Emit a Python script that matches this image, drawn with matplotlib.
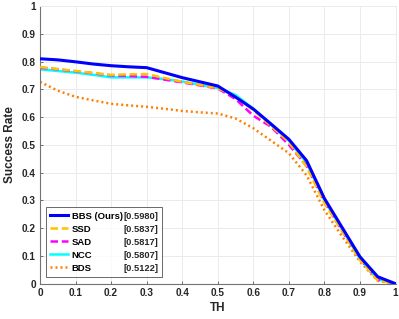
import numpy as np
import matplotlib
matplotlib.use('Agg')
import matplotlib.pyplot as plt

th = [0, 0.05, 0.1, 0.15, 0.2, 0.25, 0.3, 0.35, 0.4, 0.45, 0.5,
      0.55, 0.6, 0.65, 0.7, 0.75, 0.8, 0.85, 0.9, 0.95, 1.0]
bbs = [0.810, 0.806, 0.799, 0.791, 0.785, 0.781, 0.778, 0.760, 0.742, 0.727, 0.712,
       0.672, 0.629, 0.575, 0.520, 0.443, 0.307, 0.202, 0.097, 0.025, 0.0]
ssd = [0.780, 0.773, 0.766, 0.759, 0.752, 0.754, 0.755, 0.741, 0.727, 0.716, 0.704,
       0.675, 0.625, 0.568, 0.510, 0.420, 0.290, 0.190, 0.085, 0.012, 0.0]
sad = [0.778, 0.772, 0.765, 0.758, 0.750, 0.748, 0.745, 0.735, 0.725, 0.714, 0.703,
       0.665, 0.605, 0.565, 0.500, 0.425, 0.295, 0.190, 0.090, 0.015, 0.0]
ncc = [0.772, 0.766, 0.760, 0.752, 0.743, 0.743, 0.743, 0.737, 0.728, 0.716, 0.705,
       0.680, 0.630, 0.572, 0.515, 0.435, 0.300, 0.195, 0.090, 0.015, 0.0]
bds = [0.727, 0.695, 0.673, 0.660, 0.648, 0.642, 0.637, 0.630, 0.622, 0.617, 0.613,
       0.595, 0.560, 0.515, 0.470, 0.390, 0.265, 0.170, 0.080, 0.010, 0.0]
names = ['BBS (Ours)', 'SSD', 'SAD', 'NCC', 'BDS']
scores = ['[0.5980]', '[0.5837]', '[0.5817]', '[0.5807]', '[0.5122]']

plt.rcParams['font.family'] = ['Liberation Sans', 'DejaVu Sans']
plt.rcParams['font.weight'] = 'bold'
plt.rcParams['font.size'] = 7.2

fig = plt.figure(figsize=(3.99, 3.19), dpi=100)
ax = fig.add_axes([40/399, 1-283.7/319, 355.5/399, 277.7/319])

ax.plot(th, bbs, color=(0, 0, 1), lw=2.2, label=names[0], zorder=6)
ax.plot(th, ssd, color=(1, 0.76, 0), lw=1.8, ls=(0, (3, 1.5)), label=names[1], zorder=4)
ax.plot(th, sad, color=(1, 0, 1), lw=1.8, ls=(0, (3, 1.5)), label=names[2], zorder=3)
ax.plot(th, ncc, color=(0, 1, 1), lw=1.8, label=names[3], zorder=2)
ax.plot(th, bds, color=(1, 0.5, 0), lw=1.8, ls=(0, (0.8, 1.2)), label=names[4], zorder=1)

ax.set_xlim(0, 1)
ax.set_ylim(0, 1)
ticks = np.arange(0, 1.01, 0.1)
ax.set_xticks(ticks)
ax.set_yticks(ticks)
ax.set_xticklabels(['0'] + ['%.1f' % t for t in ticks[1:-1]] + ['1'])
ax.set_yticklabels(['0'] + ['%.1f' % t for t in ticks[1:-1]] + ['1'])
ax.tick_params(direction='in', length=2.5, width=0.6, color='0.35', pad=3,
               labelcolor='0.15', top=False, right=False)
ax.grid(True, color='0.92', lw=0.7)
ax.set_axisbelow(True)
for s in ['left', 'bottom']:
    ax.spines[s].set_color('0.45')
    ax.spines[s].set_linewidth(0.8)
for s in ['top', 'right']:
    ax.spines[s].set_color('0.92')
    ax.spines[s].set_linewidth(0.7)

ax.set_xlabel('TH', fontsize=8.5, fontweight='bold', labelpad=3, color='0.15')
ax.set_ylabel('Success Rate', fontsize=8.5, fontweight='bold', labelpad=4, color='0.15')

leg = ax.legend(loc='lower left', bbox_to_anchor=(0.017, 0.025, 0.327, 0.232),
                mode='expand', borderaxespad=0, frameon=True, fancybox=False,
                handlelength=1.9, handletextpad=0.35, labelspacing=0.42,
                borderpad=0.45, fontsize=6.8)
leg.get_frame().set_edgecolor('0.15')
leg.get_frame().set_linewidth(0.6)

fig.canvas.draw()
fb = leg.get_frame().get_window_extent()
inv = fig.transFigure.inverted()
for t, sc in zip(leg.get_texts(), scores):
    bb = t.get_window_extent()
    x, y = inv.transform((fb.x1 - 4, (bb.y0 + bb.y1) / 2))
    fig.text(x, y, sc, ha='right', va='center', fontsize=6.7, color='0.15', zorder=10)

fig.savefig('out.png', dpi=100)
